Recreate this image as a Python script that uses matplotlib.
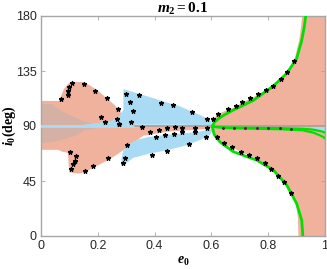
import matplotlib
matplotlib.use("Agg")
import matplotlib.pyplot as plt

plt.rcParams['mathtext.fontset'] = 'custom'
plt.rcParams['mathtext.it'] = 'Liberation Serif:italic:bold'
plt.rcParams['mathtext.rm'] = 'Liberation Serif:bold'
plt.rcParams['mathtext.bf'] = 'Liberation Serif:bold'

# left salmon region (two lobes joined by a tongue along i=90)
left_e = [0, 0.065, 0.07, 0.08, 0.095, 0.105, 0.145, 0.17, 0.2, 0.23, 0.26, 0.285, 0.29, 0.30,
          0.33, 0.45, 0.55, 0.60, 0.60, 0.55, 0.45, 0.36, 0.30, 0.27, 0.236, 0.185, 0.155, 0.13,
          0.10, 0.097, 0.095, 0.075, 0.06, 0]
left_i = [110.5, 110.5, 114, 120, 124.5, 126, 126, 123.5, 119, 113, 107, 100, 96, 91,
          90.5, 90.5, 90.5, 90.5, 88, 87, 85.5, 82, 72, 67, 62, 56, 52, 51,
          52, 60, 68, 69, 70.5, 70.5]

# gray patch inside the left region
gray_e = [0, 0.04, 0.06, 0.09, 0.12, 0.15, 0.19, 0.19, 0.15, 0.12, 0.08, 0.04, 0]
gray_i = [108, 108, 104, 100, 97, 94, 91, 88, 86, 82, 79, 77, 76]

# blue regions
blue_up_e = [0.29, 0.30, 0.35, 0.42, 0.49, 0.56, 0.595, 0.605, 0.5, 0.4, 0.3, 0.2, 0.15,
             0.15, 0.2, 0.25, 0.275, 0.29]
blue_up_i = [120, 119.5, 116, 111, 106, 99, 95, 90.5, 91, 91, 91, 90.5, 90.5,
             91, 92.5, 94.5, 98, 103]
blue_lo_e = [0.283, 0.29, 0.325, 0.384, 0.44, 0.51, 0.56, 0.595, 0.605, 0.6, 0.55, 0.45, 0.38,
             0.34, 0.31, 0.29, 0.283]
blue_lo_i = [58, 57.5, 64, 67.5, 70, 74, 78.5, 82.6, 87, 87.5, 85, 83, 81,
             79, 75, 70, 63]
blue_end_e = [0.95, 1.0, 1.0, 0.95]
blue_end_i = [89, 89, 84, 87.5]

# right salmon region: left edge as function of i
right_up_i = [90, 96, 100, 103.5, 106, 110, 112.6, 116, 119.5, 123, 128.4, 134.4, 143, 160, 170, 180]
right_up_e = [0.6, 0.605, 0.62, 0.655, 0.685, 0.708, 0.735, 0.762, 0.79, 0.816, 0.843, 0.865, 0.889,
              0.907, 0.913, 0.918]
right_lo_i = [90, 85, 80.7, 75.8, 72.5, 69, 66.3, 63.5, 59.5, 54.5, 49.3, 44, 35.5, 25, 15, 0]
right_lo_e = [0.6, 0.605, 0.619, 0.644, 0.674, 0.703, 0.732, 0.76, 0.789, 0.81, 0.836, 0.857, 0.88,
              0.897, 0.903, 0.905]

# green curves
green_e = [0.932, 0.927, 0.918, 0.9, 0.865, 0.818, 0.748, 0.677, 0.645, 0.625, 0.61, 0.603,
           0.603, 0.61, 0.63, 0.677, 0.76, 0.818, 0.865, 0.9, 0.918, 0.922]
green_i = [180, 171, 160, 145, 133, 122.7, 111, 103, 99, 96, 93, 89.4,
           89.4, 83, 77, 69, 62, 54, 41.7, 26.7, 13, 0]
mid_e = [0.603, 0.65, 0.75, 0.85, 0.92, 0.96, 0.99, 1.0]
mid1_i = [89.4, 88.8, 88.5, 88.2, 87.7, 87, 85.5, 84.5]
mid2_i = [89.4, 88.3, 87.8, 87.3, 86.5, 84.5, 81.5, 80]

# star markers
star_e = [0.069, 0.094, 0.096, 0.099, 0.108, 0.151, 0.189, 0.231, 0.27, 0.266, 0.21, 0.224, 0.276,
          0.101, 0.124, 0.118, 0.112, 0.104, 0.154, 0.184, 0.236, 0.304,
          0.298, 0.346, 0.313, 0.323, 0.421, 0.464, 0.53, 0.583, 0.316, 0.275,
          0.354, 0.384, 0.417, 0.445, 0.472, 0.495, 0.495, 0.542, 0.542, 0.586, 0.404, 0.437, 0.468, 0.58,
          0.52, 0.445, 0.39, 0.296, 0.288,
          0.607, 0.622, 0.66, 0.686, 0.709, 0.737, 0.764, 0.792, 0.818, 0.845, 0.867, 0.891,
          0.619, 0.644, 0.674, 0.703, 0.732, 0.76, 0.789, 0.81, 0.836, 0.857, 0.88]
star_i = [112, 115, 119, 122, 125, 124, 119, 113, 104, 96, 97, 93, 92,
          68.5, 65.4, 61.6, 58.6, 54.8, 53.2, 57.5, 63.5, 74.4,
          116, 115, 110, 102.5, 109, 107, 101.5, 95.7, 93, 91.5,
          88.8, 85.5, 86.7, 88.1, 89, 88, 85, 88, 85.5, 88, 80.7, 82.6, 83.4, 81.4,
          75, 69.5, 66.3, 64, 60,
          96, 100, 103.5, 106, 110, 112.6, 116, 119.5, 123, 128.4, 134.4, 143,
          80.7, 75.8, 72.5, 69, 66.3, 63.5, 59.5, 54.5, 49.3, 44, 35.5]
dot_e = [0.64, 0.68, 0.72, 0.76, 0.80, 0.84, 0.88]
dot_i = [88.4, 88.3, 88.3, 88.2, 88.1, 88.0, 87.8]

salmon = '#F0B29C'
blue = '#A9DCF4'

fig = plt.figure(figsize=(3.27, 2.69), dpi=100)
ax = fig.add_axes([41 / 327, 33 / 269, 284 / 327, 220 / 269])

ax.fill(left_e, left_i, color=salmon, lw=0, zorder=1)
ax.fill_betweenx(right_up_i, right_up_e, 1, color=salmon, lw=0, zorder=1)
ax.fill_betweenx(right_lo_i, right_lo_e, 1, color=salmon, lw=0, zorder=1)
ax.fill(gray_e, gray_i, color='#D5B0A4', lw=0, zorder=2)
ax.fill(blue_up_e, blue_up_i, color=blue, lw=0, zorder=2)
ax.fill(blue_lo_e, blue_lo_i, color=blue, lw=0, zorder=2)
ax.fill(blue_end_e, blue_end_i, color=blue, lw=0, zorder=2)

ax.plot([0, 0.33], [90, 90], color=blue, lw=2, zorder=3)
ax.plot([0.33, 1], [90, 90], color='#B0A09A', lw=1.3, zorder=3)

ax.plot(green_e, green_i, color='#00E000', lw=2, zorder=4)
ax.plot(mid_e, mid1_i, color='#00E000', lw=1.6, zorder=4)
ax.plot(mid_e, mid2_i, color='#00E000', lw=1.6, zorder=4)

ax.plot(star_e, star_i, '*', color='black', ms=3.4, mew=0.8, zorder=5)
ax.plot(dot_e, dot_i, '.', color='#303030', ms=2.2, zorder=5)

ax.set_xlim(0, 1)
ax.set_ylim(0, 180)
ax.set_xticks([0, 0.2, 0.4, 0.6, 0.8, 1])
ax.set_xticklabels(['0', '0.2', '0.4', '0.6', '0.8', '1'])
ax.set_yticks([0, 45, 90, 135, 180])
for sp in ax.spines.values():
    sp.set_color('#A6A6A6')
    sp.set_linewidth(1)
ax.tick_params(direction='in', length=3, width=0.6, color='#A6A6A6', top=True, right=True,
               labelsize=9, labelcolor='#262626', pad=3)
for lab in ax.get_xticklabels() + ax.get_yticklabels():
    lab.set_fontfamily('Liberation Sans')

ax.set_title(r'$m_2 = 0.1$', fontsize=11, pad=2)
ax.set_xlabel(r'$e_0$', fontsize=10, labelpad=1)
ax.set_ylabel(r'$i_0\mathrm{(deg)}$', fontsize=10)
ax.yaxis.set_label_coords(-0.082, 0.5)

fig.savefig('out.png', dpi=100)
